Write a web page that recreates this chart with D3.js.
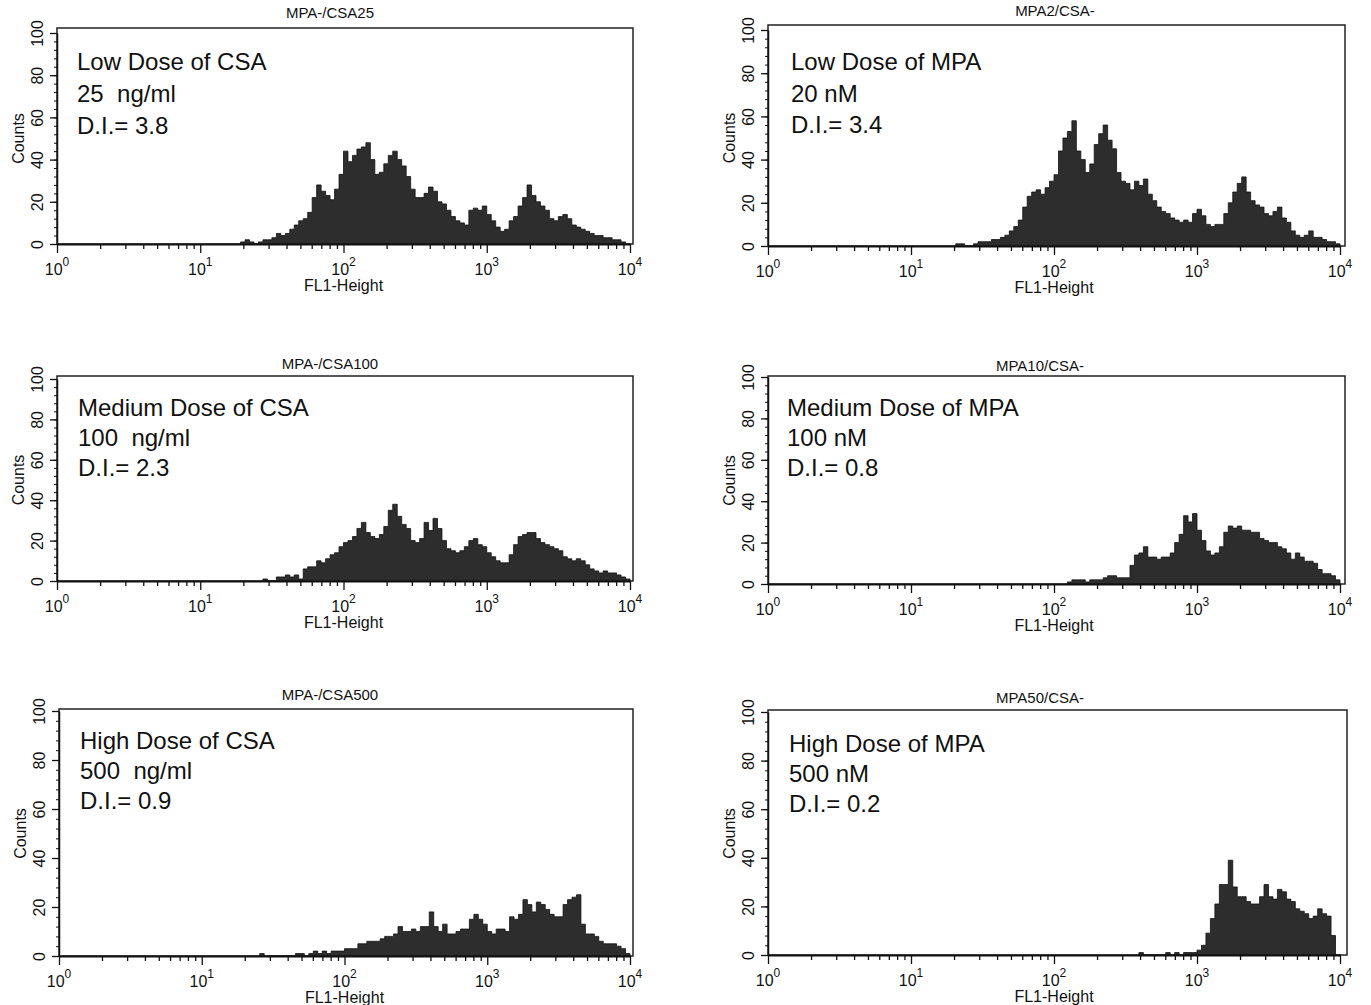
<!DOCTYPE html>
<html>
<head>
<meta charset="utf-8">
<script src="https://cdn.jsdelivr.net/npm/d3@7"></script>
<style>
  body { margin: 0; background: #fff; }
  text { font-family: "Liberation Sans", Arial, Helvetica, sans-serif; fill: #111; }
</style>
</head>
<body>
<div id="chart"></div>
<script>
// histogram channels: 32 per decade on FL1 log scale, each array starts at a channel index
const BINS_PER_DECADE = 32;

const csa25Start = 41;
const csa25Counts = [1,2,1,0,1,2,2,3,5,4, 5,7,9,11,12,15,22,28,25,23, 21,26,33,44,39,42,45,46,48,40,
  33,34,38,42,44,40,37,32,26,22, 22,24,27,25,20,19,16,13,11,10, 9,16,17,16,18,14,11,8,6,7,
  11,13,18,22,28,23,20,18,16,12, 11,13,14,12,9,8,7,6,5,4, 4,3,3,2,2,1,0];

const mpa2Start = 42;
const mpa2Counts = [1,1,0,0,1,2,2,2,3,3, 4,5,7,9,12,18,23,25,26,24, 27,30,33,44,50,53,58,44,40,34,
  38,47,52,56,49,45,34,30,29,26, 30,28,31,24,21,18,16,15,13,12, 11,12,11,15,17,14,10,9,10,10,
  15,20,25,29,32,25,21,19,18,15, 14,16,18,13,11,7,5,4,5,7, 4,4,3,2,2,1];

const csa100Start = 46;
const csa100Counts = [1,0,0,2,2,3,2,3,1,6, 7,7,10,9,11,13,14,17,19,20, 22,26,29,24,22,21,23,27,35,38,
  32,28,26,20,19,21,29,25,31,26, 20,16,15,14,15,17,20,21,18,17, 14,12,10,9,9,13,18,22,23,24,
  24,21,19,18,17,16,15,12,11,10, 11,10,8,6,5,4,5,4,4,3, 2,1];

const mpa10Start = 67;
const mpa10Counts = [1,2,2,2,1,2,2,2,3,4, 4,3,3,3,9,14,15,18,13,13, 12,13,13,15,20,24,33,30,34,26,
  21,16,14,15,18,25,28,27,28,26, 26,25,25,22,21,20,20,18,17,15, 12,15,13,11,11,10,7,5,5,4, 2];

const csa500Start = 45;
const csa500Counts = [1,0,0,0,0,0,0,0,1,1, 0,1,2,1,2,1,2,2,2,3, 3,3,5,5,6,6,6,7,8,8,
  9,12,10,10,11,10,12,12,18,12, 10,13,9,9,10,11,11,15,17,15, 13,10,9,11,11,10,16,15,17,23,
  21,18,22,21,19,17,16,16,21,23, 24,25,13,9,9,8,6,5,5,5, 4,3,1];

const mpa50Start = 83;
const mpa50Counts = [1,0,0,0,0,0,1,0,1,0, 1,1,1,2,4,9,15,21,29,29, 39,28,24,24,22,21,21,24,29,24,
  23,27,26,23,22,19,18,17,15,16, 19,17,16,8,0];

const titles = ["MPA-/CSA25", "MPA2/CSA-", "MPA-/CSA100", "MPA10/CSA-", "MPA-/CSA500", "MPA50/CSA-"];
const notes = [
  ["Low Dose of CSA", "25  ng/ml", "D.I.= 3.8"],
  ["Low Dose of MPA", "20 nM", "D.I.= 3.4"],
  ["Medium Dose of CSA", "100  ng/ml", "D.I.= 2.3"],
  ["Medium Dose of MPA", "100 nM", "D.I.= 0.8"],
  ["High Dose of CSA", "500  ng/ml", "D.I.= 0.9"],
  ["High Dose of MPA", "500 nM", "D.I.= 0.2"]
];
const yTicks = [0, 20, 40, 60, 80, 100];
const decades = [0, 1, 2, 3, 4];

const series = [
  { start: csa25Start, counts: csa25Counts },
  { start: mpa2Start, counts: mpa2Counts },
  { start: csa100Start, counts: csa100Counts },
  { start: mpa10Start, counts: mpa10Counts },
  { start: csa500Start, counts: csa500Counts },
  { start: mpa50Start, counts: mpa50Counts }
];

// panel placement on the page
const layouts = [
  { xL: 57, xR: 630, frameR: 633, y0: 244, y100: 33, top: 28, titleX: 330, titleY: 18, noteX: 77, noteY: 70, gap: 32 },
  { xL: 768, xR: 1340, frameR: 1345, y0: 246, y100: 30, top: 25, titleX: 1055, titleY: 16, noteX: 791, noteY: 70, gap: 31.5 },
  { xL: 57, xR: 630, frameR: 633, y0: 581, y100: 379, top: 376, titleX: 330, titleY: 369, noteX: 78, noteY: 416, gap: 30 },
  { xL: 768, xR: 1340, frameR: 1345, y0: 584, y100: 377, top: 376, titleX: 1040, titleY: 371, noteX: 787, noteY: 416, gap: 30 },
  { xL: 59, xR: 630, frameR: 633, y0: 956, y100: 711, top: 709, titleX: 330, titleY: 700, noteX: 80, noteY: 749, gap: 30 },
  { xL: 768, xR: 1340, frameR: 1347, y0: 955, y100: 712, top: 710, titleX: 1040, titleY: 703, noteX: 789, noteY: 752, gap: 30 }
];

const svg = d3.select('#chart').append('svg')
  .attr('width', 1371)
  .attr('height', 1005);

const minorX = [];
for (let d = 0; d < 4; d++) {
  for (let k = 1; k <= 9; k++) minorX.push(k * Math.pow(10, d));
}
minorX.push(1e4);

layouts.forEach((L, idx) => {
  const s = series[idx];
  const x = d3.scaleLog().domain([1, 1e4]).range([L.xL, L.xR]);
  const y = d3.scaleLinear().domain([0, 100]).range([L.y0, L.y100]);
  const g = svg.append('g');

  // histogram as a step area
  const pts = s.counts.map((c, i) => ({ v: Math.pow(10, (s.start + i) / BINS_PER_DECADE), c: c }));
  pts.push({ v: Math.pow(10, (s.start + s.counts.length) / BINS_PER_DECADE), c: 0 });
  const area = d3.area()
    .curve(d3.curveStepAfter)
    .x(d => x(d.v))
    .y0(y(0))
    .y1(d => y(d.c));
  g.append('path')
    .datum(pts)
    .attr('d', area)
    .attr('fill', '#2d2d2d')
    .attr('stroke', '#111')
    .attr('stroke-width', 0.8);

  // frame
  g.append('rect')
    .attr('x', L.xL)
    .attr('y', L.top)
    .attr('width', L.frameR - L.xL)
    .attr('height', L.y0 - L.top)
    .attr('fill', 'none')
    .attr('stroke', '#222')
    .attr('stroke-width', 1.5);

  // x axis
  const xAxis = g.append('g')
    .attr('transform', `translate(0,${L.y0})`)
    .style('color', '#111')
    .call(d3.axisBottom(x).tickValues(minorX).tickSize(5).tickSizeOuter(0).tickFormat(''));
  xAxis.select('.domain').attr('stroke-width', 2);
  xAxis.selectAll('.tick line')
    .attr('stroke-width', 1.3)
    .attr('y2', d => (Math.abs(Math.log10(d) - Math.round(Math.log10(d))) < 1e-9 ? 9 : 5));

  decades.forEach(e => {
    const t = g.append('text')
      .attr('x', x(Math.pow(10, e)))
      .attr('y', L.y0 + 31)
      .attr('text-anchor', 'middle')
      .attr('font-size', 16);
    t.append('tspan').text('10');
    t.append('tspan').attr('dy', -9).attr('font-size', 12).text(e);
  });

  g.append('text')
    .attr('x', (L.xL + L.xR) / 2)
    .attr('y', L.y0 + 47)
    .attr('text-anchor', 'middle')
    .attr('font-size', 16)
    .text('FL1-Height');

  // y axis: minor ticks, then labelled ticks
  g.append('g')
    .attr('transform', `translate(${L.xL},0)`)
    .style('color', '#111')
    .call(d3.axisLeft(y).tickValues(d3.range(0, 101, 4)).tickSize(3).tickSizeOuter(0).tickFormat(''))
    .select('.domain').attr('stroke-width', 1.5);

  const yAxis = g.append('g')
    .attr('transform', `translate(${L.xL},0)`)
    .style('color', '#111')
    .call(d3.axisLeft(y).tickValues(yTicks).tickSize(7).tickSizeOuter(0));
  yAxis.select('.domain').remove();
  yAxis.selectAll('.tick line').attr('stroke-width', 1.3);
  yAxis.selectAll('.tick text')
    .attr('font-size', 16)
    .attr('font-family', '"Liberation Sans", Arial, sans-serif')
    .attr('transform', 'rotate(-90)')
    .attr('x', 0)
    .attr('y', -14)
    .attr('dy', null)
    .attr('text-anchor', 'middle');

  g.append('text')
    .attr('transform', `translate(${L.xL - 33},${(L.y0 + L.y100) / 2}) rotate(-90)`)
    .attr('text-anchor', 'middle')
    .attr('font-size', 16)
    .text('Counts');

  // panel title
  g.append('text')
    .attr('x', L.titleX)
    .attr('y', L.titleY)
    .attr('text-anchor', 'middle')
    .attr('font-size', 15)
    .text(titles[idx]);

  // annotation lines
  notes[idx].forEach((line, i) => {
    g.append('text')
      .attr('x', L.noteX)
      .attr('y', L.noteY + i * L.gap)
      .attr('font-size', 24)
      .style('white-space', 'pre')
      .text(line);
  });
});
</script>
</body>
</html>
